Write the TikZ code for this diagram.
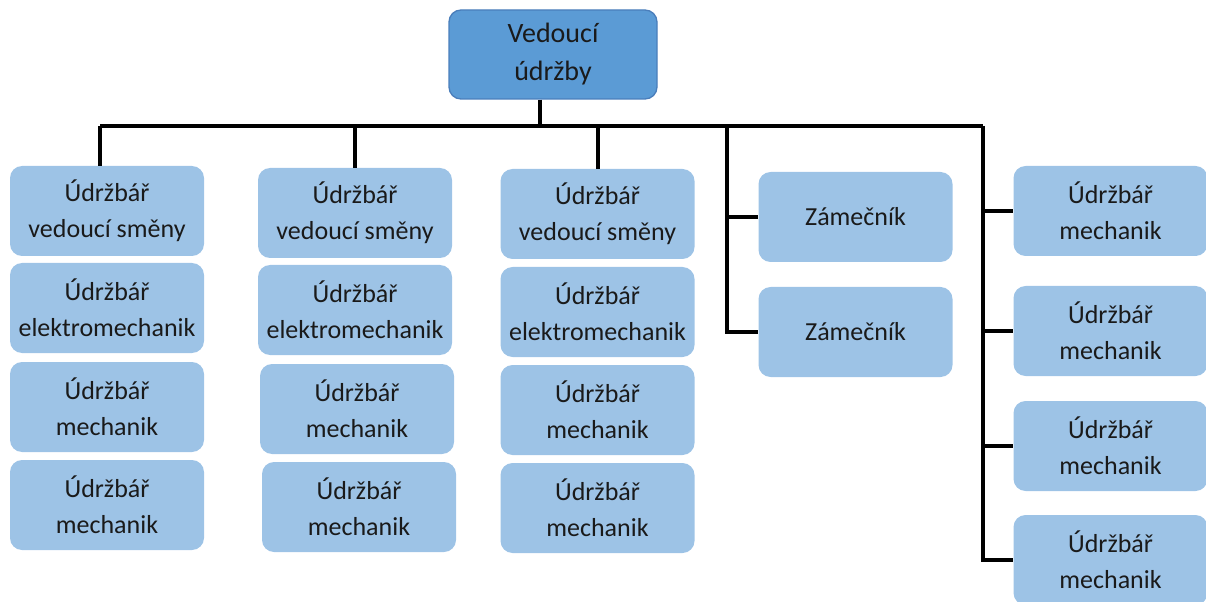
\documentclass[tikz,border=0pt]{standalone}
\usepackage{fontspec}
\setmainfont{Carlito}
\definecolor{headblue}{HTML}{5B9BD5}
\definecolor{headline}{HTML}{4A7EBB}
\definecolor{staffblue}{HTML}{9DC3E6}
\definecolor{inktext}{HTML}{1A1A1A}

\tikzset{
	lead/.style={draw=headline, line width=1pt, fill=headblue, rounded corners=9pt,
		minimum width=156pt, minimum height=66.75pt, align=center, text=inktext,
		font=\fontsize{21}{28.5}\selectfont},
	staff/.style={fill=staffblue, rounded corners=9pt,
		minimum width=145.5pt, minimum height=67.5pt, align=center, text=inktext,
		font=\fontsize{19.5}{27}\selectfont},
	link/.style={line width=3pt, black}
}

\begin{document}
\begin{tikzpicture}[x=0.75pt, y=-0.75pt]

	\useasboundingbox (0,0) rectangle (1206,602);

	% vedeni
	\node[lead] (head) at (553,54.5) {Vedoucí\\údržby};

	% prvni smena
	\node[staff] (a1) at (107,211) {Údržbář\\vedoucí směny};
	\node[staff] (a2) at (107,308) {Údržbář\\elektromechanik};
	\node[staff] (a3) at (107,407) {Údržbář\\mechanik};
	\node[staff] (a4) at (107,505) {Údržbář\\mechanik};

	% druha smena
	\node[staff] (b1) at (355,213) {Údržbář\\vedoucí směny};
	\node[staff] (b2) at (355,310) {Údržbář\\elektromechanik};
	\node[staff] (b3) at (357,409) {Údržbář\\mechanik};
	\node[staff] (b4) at (359,507) {Údržbář\\mechanik};

	% treti smena
	\node[staff] (c1) at (597.5,214) {Údržbář\\vedoucí směny};
	\node[staff] (c2) at (597.5,312) {Údržbář\\elektromechanik};
	\node[staff] (c3) at (597.5,410) {Údržbář\\mechanik};
	\node[staff] (c4) at (597.5,508) {Údržbář\\mechanik};

	% zamecnici
	\node[staff] (z1) at (855.5,217) {Zámečník};
	\node[staff] (z2) at (855.5,332) {Zámečník};

	% mechanici
	\node[staff] (m1) at (1110.5,211) {Údržbář\\mechanik};
	\node[staff] (m2) at (1110.5,331) {Údržbář\\mechanik};
	\node[staff] (m3) at (1110.5,446) {Údržbář\\mechanik};
	\node[staff] (m4) at (1110.5,560) {Údržbář\\mechanik};

	% sbernice
	\coordinate (busL) at (100,126);
	\coordinate (busR) at (983,126);
	\coordinate (topdrop) at (540,126);
	\coordinate (zbus) at (727,126);

	\draw[link] (topdrop |- head.south) -- (topdrop);
	\draw[link] (busL) -- (busR);
	\draw[link] (busL) -- (busL |- a1.north);
	\draw[link] (b1.north) -- (b1.north |- busL);
	\draw[link] (c1.north) -- (c1.north |- busL);

	\draw[link] (zbus) |- (z2.west);
	\draw[link] (zbus |- z1.west) -- (z1.west);

	\draw[link] (busR) |- (m4.west);
	\draw[link] (busR |- m1.west) -- (m1.west);
	\draw[link] (busR |- m2.west) -- (m2.west);
	\draw[link] (busR |- m3.west) -- (m3.west);
\end{tikzpicture}
\end{document}
